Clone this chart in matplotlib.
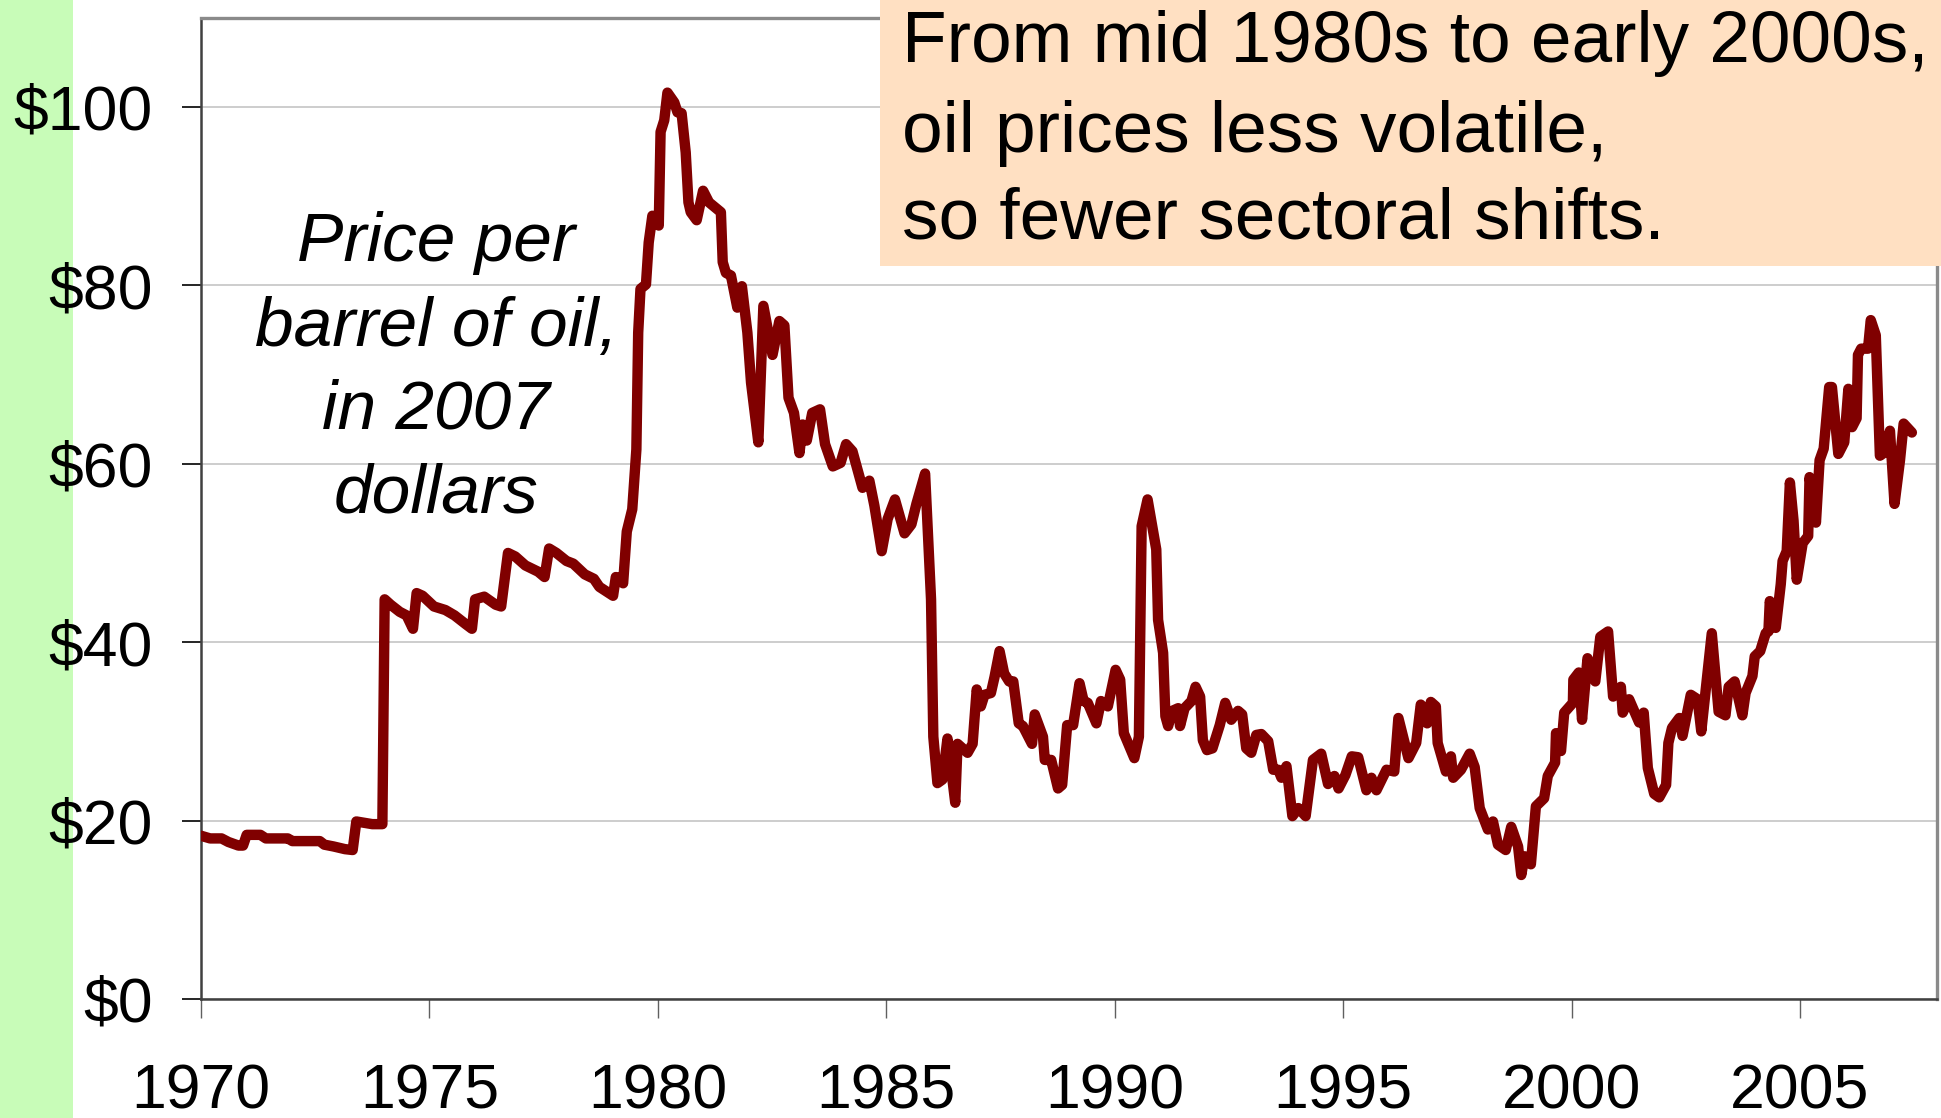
import numpy as np
import matplotlib
matplotlib.use('Agg')
import matplotlib.pyplot as plt
from matplotlib.patches import Rectangle

# oil price per barrel, 2007 dollars
years = [1970.00, 1970.20, 1970.45, 1970.60, 1970.82, 1970.92, 1971.00, 1971.30,
         1971.42, 1971.90, 1972.00, 1972.60, 1972.70, 1972.90, 1973.15, 1973.32,
         1973.40, 1973.75, 1973.97, 1974.02, 1974.15, 1974.35, 1974.50, 1974.64,
         1974.72, 1974.85, 1975.10, 1975.35, 1975.55, 1975.80, 1975.93, 1976.00,
         1976.20, 1976.45, 1976.57, 1976.72, 1976.88, 1977.10, 1977.38, 1977.52,
         1977.62, 1977.78, 1978.00, 1978.15, 1978.40, 1978.60, 1978.72, 1978.90,
         1979.02, 1979.08, 1979.18, 1979.24, 1979.32, 1979.44, 1979.53, 1979.57,
         1979.62, 1979.74, 1979.80, 1979.88, 1980.02, 1980.06, 1980.14, 1980.21,
         1980.36, 1980.43, 1980.52, 1980.61, 1980.67, 1980.72, 1980.85, 1980.99,
         1981.12, 1981.38, 1981.42, 1981.49, 1981.60, 1981.74, 1981.84, 1981.96,
         1982.04, 1982.20, 1982.31, 1982.51, 1982.66, 1982.77, 1982.86, 1982.98,
         1983.10, 1983.17, 1983.26, 1983.38, 1983.55, 1983.66, 1983.83, 1984.00,
         1984.12, 1984.26, 1984.48, 1984.63, 1984.74, 1984.90, 1985.03, 1985.19,
         1985.40, 1985.55, 1985.66, 1985.85, 1985.98, 1986.03, 1986.12, 1986.23,
         1986.34, 1986.51, 1986.56, 1986.78, 1986.89, 1986.98, 1987.07, 1987.15,
         1987.29, 1987.37, 1987.48, 1987.58, 1987.69, 1987.78, 1987.90, 1987.99,
         1988.19, 1988.25, 1988.43, 1988.47, 1988.61, 1988.76, 1988.85, 1988.96,
         1989.09, 1989.23, 1989.32, 1989.41, 1989.60, 1989.70, 1989.85, 1990.02,
         1990.12, 1990.20, 1990.43, 1990.53, 1990.59, 1990.72, 1990.91, 1990.95,
         1991.06, 1991.11, 1991.17, 1991.26, 1991.39, 1991.43, 1991.53, 1991.68,
         1991.77, 1991.87, 1991.93, 1992.02, 1992.14, 1992.30, 1992.42, 1992.55,
         1992.70, 1992.79, 1992.88, 1992.99, 1993.10, 1993.21, 1993.36, 1993.47,
         1993.58, 1993.65, 1993.76, 1993.89, 1994.02, 1994.18, 1994.34, 1994.52,
         1994.67, 1994.81, 1994.90, 1995.05, 1995.19, 1995.33, 1995.51, 1995.62,
         1995.73, 1995.95, 1996.12, 1996.21, 1996.43, 1996.60, 1996.70, 1996.84,
         1996.92, 1997.03, 1997.07, 1997.25, 1997.36, 1997.41, 1997.58, 1997.77,
         1997.88, 1997.99, 1998.17, 1998.28, 1998.39, 1998.56, 1998.68, 1998.83,
         1998.90, 1998.97, 1999.11, 1999.22, 1999.40, 1999.48, 1999.64, 1999.66,
         1999.77, 1999.84, 2000.03, 2000.04, 2000.16, 2000.23, 2000.35, 2000.52,
         2000.63, 2000.80, 2000.91, 2001.08, 2001.12, 2001.26, 2001.48, 2001.58,
         2001.67, 2001.81, 2001.92, 2002.07, 2002.12, 2002.20, 2002.36, 2002.43,
         2002.61, 2002.76, 2002.84, 2003.07, 2003.22, 2003.37, 2003.44, 2003.57,
         2003.74, 2003.81, 2003.96, 2004.01, 2004.13, 2004.25, 2004.31, 2004.34,
         2004.47, 2004.58, 2004.62, 2004.71, 2004.78, 2004.86, 2004.93, 2005.06,
         2005.18, 2005.21, 2005.35, 2005.43, 2005.52, 2005.64, 2005.70, 2005.84,
         2005.97, 2006.06, 2006.14, 2006.24, 2006.27, 2006.34, 2006.49, 2006.55,
         2006.66, 2006.75, 2006.86, 2006.97, 2007.07, 2007.19, 2007.27, 2007.45]

price = [18.3, 18.0, 18.0, 17.6, 17.2, 17.2, 18.4, 18.4,
         18.0, 18.0, 17.7, 17.7, 17.3, 17.1, 16.8, 16.7,
         19.9, 19.6, 19.6, 44.8, 44.2, 43.4, 43.0, 41.5,
         45.5, 45.2, 44.0, 43.6, 43.0, 42.0, 41.5, 44.8,
         45.1, 44.2, 44.0, 50.0, 49.6, 48.6, 47.9, 47.3,
         50.5, 50.0, 49.1, 48.8, 47.6, 47.1, 46.2, 45.6,
         45.2, 47.3, 47.2, 46.6, 52.4, 54.9, 61.6, 74.7,
         79.6, 80.1, 84.8, 87.8, 86.7, 97.2, 98.5, 101.6,
         100.5, 99.4, 99.3, 94.9, 89.3, 88.2, 87.3, 90.6,
         89.3, 88.2, 82.6, 81.4, 81.1, 77.5, 79.9, 74.7,
         69.1, 62.4, 77.7, 72.2, 76.0, 75.5, 67.4, 65.7,
         61.2, 64.4, 62.6, 65.7, 66.1, 62.2, 59.7, 60.1,
         62.2, 61.4, 57.3, 58.1, 55.3, 50.2, 53.8, 56.0,
         52.2, 53.2, 55.5, 58.9, 44.8, 29.4, 24.2, 24.6,
         29.2, 22.0, 28.6, 27.6, 28.6, 34.7, 32.8, 34.1,
         34.3, 36.1, 39.0, 36.5, 35.6, 35.6, 30.9, 30.6,
         28.6, 31.9, 29.4, 26.8, 26.8, 23.6, 24.0, 30.7,
         30.7, 35.4, 33.4, 33.2, 30.9, 33.4, 32.8, 36.9,
         35.8, 29.8, 27.0, 29.4, 53.0, 56.0, 50.4, 42.5,
         38.8, 31.7, 30.6, 32.3, 32.6, 30.6, 32.6, 33.4,
         35.0, 33.9, 29.0, 27.9, 28.1, 30.7, 33.2, 31.3,
         32.3, 31.9, 28.1, 27.6, 29.6, 29.7, 28.9, 25.7,
         25.7, 24.8, 26.1, 20.5, 21.4, 20.5, 26.8, 27.5,
         24.1, 25.0, 23.6, 25.1, 27.2, 27.1, 23.4, 24.8,
         23.4, 25.7, 25.5, 31.5, 27.0, 28.7, 33.0, 30.9,
         33.3, 32.8, 28.7, 25.5, 27.2, 24.8, 25.7, 27.5,
         26.0, 21.4, 19.0, 19.9, 17.3, 16.7, 19.3, 17.1,
         13.9, 16.0, 15.1, 21.6, 22.5, 25.0, 26.5, 29.8,
         27.8, 32.1, 33.2, 35.8, 36.6, 31.3, 38.2, 35.6,
         40.6, 41.2, 33.9, 35.0, 32.1, 33.6, 31.0, 32.1,
         25.9, 23.0, 22.6, 24.0, 28.7, 30.4, 31.5, 29.5,
         34.1, 33.6, 30.0, 41.0, 32.2, 31.8, 35.0, 35.6,
         31.8, 34.3, 36.2, 38.4, 39.0, 41.0, 41.2, 44.6,
         41.6, 46.5, 49.1, 50.2, 57.9, 53.6, 47.0, 51.1,
         51.9, 58.5, 53.4, 60.4, 61.7, 68.6, 68.6, 61.1,
         62.4, 68.4, 64.1, 65.1, 72.2, 72.9, 72.9, 76.1,
         74.4, 60.9, 61.3, 63.7, 55.5, 60.4, 64.5, 63.5]

xticks = [1970, 1975, 1980, 1985, 1990, 1995, 2000, 2005]
yticks = [0, 20, 40, 60, 80, 100]
ylabels = ['$%d' % v for v in yticks]

label_lines = ['Price per', 'barrel of oil,', 'in 2007', 'dollars']
note_lines = ['From mid 1980s to early 2000s,',
              'oil prices less volatile,',
              'so fewer sectoral shifts.']

plt.rcParams['font.family'] = ['Liberation Sans', 'DejaVu Sans']

fig = plt.figure(figsize=(19.41, 11.18), dpi=100)
fig.patch.set_facecolor('white')

# green strip on the left edge
fig.add_artist(Rectangle((0, 0), 73 / 1941, 1, transform=fig.transFigure,
                         facecolor='#c8fcb8', edgecolor='none', zorder=-1))

ax = fig.add_axes([201 / 1941, 1 - 999 / 1118, (1937 - 201) / 1941, (999 - 17.7) / 1118])
ax.set_facecolor('white')

ax.plot(years, price, color='#800000', linewidth=7.5,
        solid_joinstyle='round', solid_capstyle='round', zorder=3)

ax.set_xlim(1970, 2008)
ax.set_ylim(0, 110)
ax.set_xticks(xticks)
ax.set_xticklabels([str(x) for x in xticks], fontsize=45)
ax.set_yticks(yticks)
ax.set_yticklabels(ylabels, fontsize=45)

ax.grid(axis='y', color='#c0c0c0', linewidth=1.1)
ax.set_axisbelow(True)

ax.tick_params(axis='y', direction='out', length=13.7, width=1.2, color='black', pad=21)
ax.tick_params(axis='x', direction='out', length=13.7, width=1.0, color='#606060', pad=32)

for side in ['left', 'bottom']:
    ax.spines[side].set_color('#404040')
    ax.spines[side].set_linewidth(1.8)
for side in ['top', 'right']:
    ax.spines[side].set_color('#8a8a8a')
    ax.spines[side].set_linewidth(2.4)

# italic label inside the plot
label_base = [260.7, 346.4, 428.6, 512.9]
for txt, yb in zip(label_lines, label_base):
    fig.text(436 / 1941, 1 - yb / 1118, txt, fontsize=50, style='italic',
             ha='center', va='baseline')

# peach note box in the top right corner
fig.add_artist(Rectangle((880 / 1941, 1 - 265.7 / 1118), 1, 265.7 / 1118,
                         transform=fig.transFigure, facecolor='#ffe0c2',
                         edgecolor='none', zorder=5))
note_base = [61.7, 151.7, 238.3]
for txt, yb in zip(note_lines, note_base):
    fig.text(902 / 1941, 1 - yb / 1118, txt, fontsize=52.6, ha='left',
             va='baseline', zorder=6)

plt.savefig('out.png', dpi=100)
